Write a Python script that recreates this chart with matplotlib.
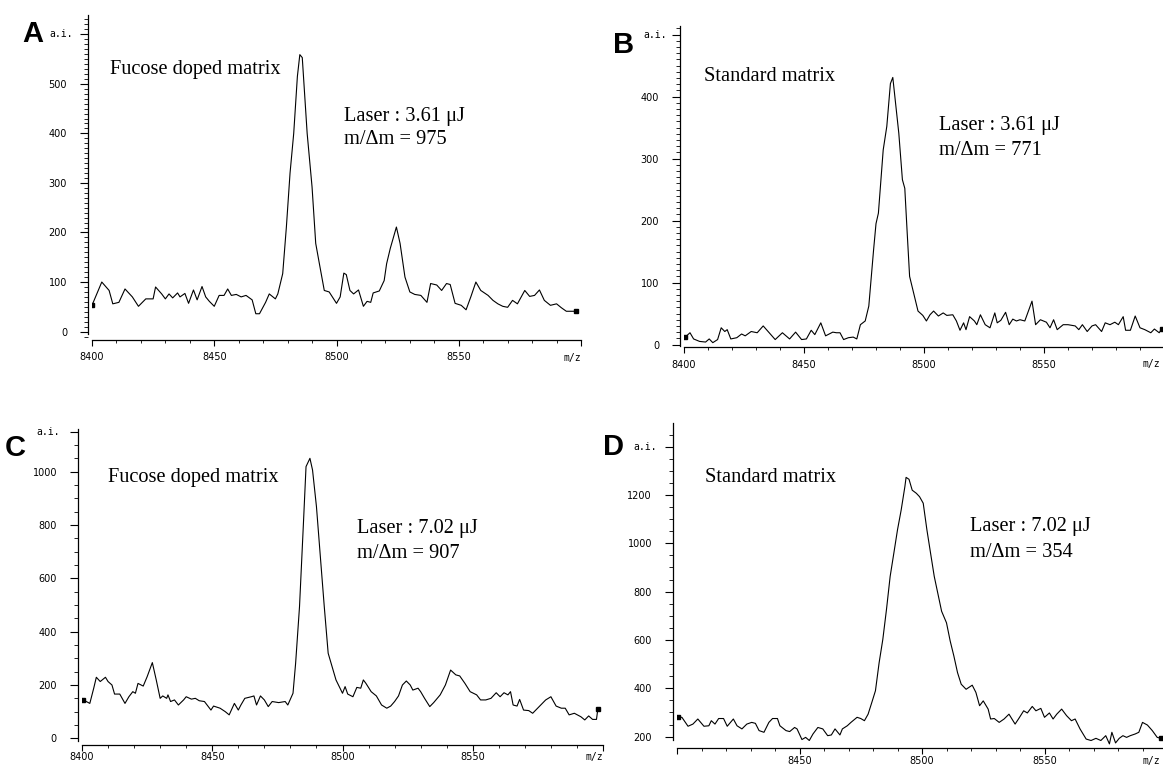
import matplotlib.pyplot as plt
from matplotlib import transforms
from matplotlib.ticker import FixedLocator, MultipleLocator

# Panel A - fucose doped matrix, 3.61 uJ
mz_a = [8400, 8404, 8407, 8408.5, 8411, 8413.5, 8416.5, 8419, 8422, 8425, 8426, 8428.5, 8430,
        8431.5, 8433, 8435, 8436, 8438, 8439.5, 8441.5, 8443, 8445, 8446.5, 8448, 8450, 8452,
        8454, 8455.5, 8457, 8459, 8461, 8463, 8465.5, 8467, 8468.5, 8471, 8472.5, 8475, 8476,
        8478, 8479.5, 8481, 8482.5, 8484, 8485, 8486, 8488, 8490, 8491.5, 8493, 8495, 8497,
        8500, 8501.5, 8503, 8504, 8505.5, 8507, 8509, 8511, 8512.5, 8514, 8515, 8517.5, 8519.5,
        8520.5, 8522, 8524.5, 8526, 8528, 8530, 8532, 8534.5, 8537, 8538.5, 8541, 8543, 8545,
        8546.5, 8548.5, 8551, 8553, 8555, 8557, 8559, 8562, 8564, 8566, 8568, 8570, 8572, 8574,
        8577, 8579, 8581, 8583, 8585, 8587.5, 8590, 8592, 8594, 8597, 8598]
int_a = [53, 100, 83, 56, 59, 86, 70, 51, 66, 66, 90, 76, 66,
         76, 68, 78, 70, 77, 57, 84, 64, 91, 70, 61, 51, 73,
         73, 86, 73, 75, 70, 73, 64, 36, 36, 59, 76, 66, 76,
         117, 211, 320, 400, 515, 559, 553, 400, 292, 178, 137, 83, 80,
         57, 70, 118, 115, 83, 76, 84, 51, 61, 59, 78, 82, 103,
         137, 168, 211, 178, 110, 80, 75, 73, 59, 97, 94, 83, 97,
         95, 57, 53, 44, 71, 100, 83, 73, 63, 56, 51, 49, 63, 56,
         83, 71, 73, 84, 63, 53, 56, 48, 41, 41, 41]

# Panel B - standard matrix, 3.61 uJ
mz_b = [8400.5, 8402.5, 8404, 8406.5, 8409, 8410.5, 8412, 8414, 8415.5, 8417, 8418, 8419.5, 8422,
        8424, 8425.5, 8428, 8430.5, 8433, 8435.5, 8438, 8441, 8444, 8446.5, 8449, 8451, 8453,
        8454.5, 8457, 8459, 8461, 8462, 8463.5, 8465, 8466.5, 8468.5, 8470.5, 8472, 8473.5,
        8475.5, 8477, 8479, 8480, 8481, 8483, 8484.5, 8486, 8487, 8488, 8489.5, 8491, 8492,
        8493, 8494, 8496, 8497.5, 8499.5, 8501, 8502.5, 8504, 8506, 8508, 8509.5, 8512, 8513.5,
        8515, 8516.5, 8517.5, 8519, 8521, 8522, 8523.5, 8525.5, 8527.5, 8529.5, 8530.5, 8532,
        8534, 8535.5, 8537, 8538.5, 8540, 8542, 8545, 8546.5, 8548.5, 8551, 8552.5, 8554,
        8555.5, 8558, 8560, 8563, 8564.5, 8566, 8568, 8570, 8571.5, 8574, 8575.5, 8577.5,
        8579.5, 8581, 8583, 8584, 8586, 8588, 8590, 8592, 8594.5, 8596, 8598, 8599]
int_b = [12, 19, 9, 5, 4, 9, 3, 8, 27, 21, 24, 9, 11,
         17, 14, 21, 19, 30, 19, 8, 19, 9, 20, 8, 9, 23,
         16, 35, 14, 18, 20, 19, 19, 8, 11, 12, 9, 32,
         38, 62, 153, 195, 212, 314, 352, 421, 431, 395, 341, 266, 252,
         180, 110, 78, 54, 47, 38, 48, 54, 46, 51, 47, 48, 38,
         23, 35, 24, 45, 38, 32, 48, 32, 27, 51, 35, 39,
         52, 32, 41, 38, 40, 38, 70, 32, 40, 36, 27, 40,
         24, 32, 32, 30, 24, 32, 21, 30, 32, 21, 35, 32,
         36, 32, 45, 23, 23, 46, 27, 24, 19, 25, 19, 25]

# Panel C - fucose doped matrix, 7.02 uJ
mz_c = [8400.5, 8403, 8404.5, 8405.5, 8407, 8409, 8410, 8411.5, 8412.5, 8414.5, 8416.5, 8418,
        8419.5, 8420.5, 8421.5, 8423.5, 8425, 8427, 8428.5, 8430, 8431, 8432.5, 8433, 8434,
        8435.5, 8437, 8439, 8440, 8442, 8443.5, 8445, 8447, 8449.5, 8450.5, 8453, 8455,
        8456.5, 8458.5, 8460, 8461, 8462.5, 8465, 8466, 8467, 8468.5, 8470, 8471.5, 8473,
        8475.5, 8478, 8479, 8481, 8482, 8483.5, 8485, 8486, 8487.5, 8488.5, 8490, 8491.5,
        8493, 8494.5, 8496, 8497.5, 8500, 8501, 8502, 8504, 8505.5, 8507, 8508, 8509, 8511,
        8513, 8515, 8517, 8518.5, 8520, 8521.5, 8523, 8524.5, 8526, 8527, 8529, 8530, 8531.5,
        8533.5, 8535, 8537.5, 8539.5, 8541.5, 8543.5, 8545, 8547, 8549, 8551.5, 8553, 8555,
        8557, 8559, 8560.5, 8562, 8563.5, 8564.5, 8565.5, 8567, 8568, 8569.5, 8571.5, 8573,
        8575.5, 8578, 8580, 8582, 8584, 8585.5, 8587, 8589, 8591.5, 8593, 8594.5, 8596,
        8597.5, 8598]
int_c = [144, 131, 188, 229, 213, 229, 213, 200, 166, 166, 131, 156,
         175, 169, 206, 196, 231, 284, 219, 150, 159, 150, 163, 138,
         144, 125, 144, 156, 147, 150, 141, 138, 106, 121, 113, 100,
         88, 131, 106, 125, 150, 156, 159, 125, 159, 144, 119, 138,
         134, 138, 125, 169, 281, 494, 806, 1019, 1050, 1006, 869, 681,
         494, 319, 269, 219, 169, 194, 166, 156, 191, 188, 219, 206, 175,
         159, 125, 113, 121, 138, 159, 200, 215, 200, 181, 188, 175, 150,
         119, 134, 163, 200, 256, 238, 234, 206, 175, 163, 144, 144,
         150, 171, 156, 171, 163, 175, 125, 121, 146, 106, 104, 94,
         119, 144, 156, 121, 113, 113, 88, 94, 81, 69, 84, 71,
         71, 109]

# Panel D - standard matrix, 7.02 uJ
mz_d = [8400.5, 8402, 8404.5, 8406.5, 8408.5, 8411, 8413, 8414, 8415.5, 8417, 8419, 8420.5,
        8423, 8424.5, 8426.5, 8428.5, 8430.5, 8432, 8433.5, 8435.5, 8437.5, 8439, 8441, 8442,
        8444.5, 8446, 8448, 8449, 8451, 8452.5, 8454, 8455.5, 8457.5, 8459.5, 8461.5, 8463,
        8464.5, 8466.5, 8467.5, 8469.5, 8471, 8473.5, 8475, 8476.5, 8478, 8479.5, 8481,
        8482.5, 8484, 8485.5, 8487, 8488.5, 8490, 8491.5, 8493, 8493.5, 8494.7, 8496, 8497.7,
        8499, 8500.5, 8502, 8503.5, 8505, 8507, 8508, 8510, 8511.5, 8513, 8514.5, 8516, 8518,
        8520.5, 8522, 8523.5, 8525, 8527, 8528, 8529.5, 8531.5, 8533.5, 8535.5, 8538, 8539.5,
        8541.5, 8543, 8545, 8546.5, 8548.5, 8550, 8552, 8553.5, 8555, 8557, 8559, 8561,
        8562.5, 8564.5, 8567, 8569, 8571, 8573, 8575, 8576.5, 8577.5, 8579, 8580.5, 8582,
        8583.5, 8585, 8587, 8588.5, 8590, 8592, 8594, 8596, 8597.5]
int_d = [280, 280, 243, 252, 273, 243, 245, 266, 252, 275, 275, 243,
         273, 245, 232, 252, 259, 255, 225, 218, 259, 275, 275, 245,
         225, 221, 238, 232, 188, 197, 184, 211, 238, 232, 204, 207,
         232, 207, 232, 245, 259, 280, 275, 266, 293, 341, 390,
         506, 602, 726, 863, 959, 1056, 1138, 1234, 1273, 1265, 1220, 1207,
         1193, 1166, 1056, 959, 863, 767, 719, 671, 596, 534, 465, 417, 396,
         413, 383, 328, 348, 314, 273, 275, 259, 273, 293, 252, 275,
         307, 298, 325, 307, 317, 280, 298, 273, 293, 314, 287, 266,
         273, 232, 190, 184, 193, 184, 204, 170, 218, 174, 193, 204,
         197, 204, 211, 218, 259, 248, 225, 197, 193]

panel_letters = ["A", "B", "C", "D"]
matrix_labels = ["Fucose doped matrix", "Standard matrix", "Fucose doped matrix", "Standard matrix"]
laser_labels = ["Laser : 3.61 \u03bcJ", "Laser : 3.61 \u03bcJ", "Laser : 7.02 \u03bcJ", "Laser : 7.02 \u03bcJ"]
resolution_labels = ["m/\u0394m = 975", "m/\u0394m = 771", "m/\u0394m = 907", "m/\u0394m = 354"]

W, H = 1163, 767
fig = plt.figure(figsize=(W / 100, H / 100), dpi=100)

serif = ["Liberation Serif", "DejaVu Serif"]
mono = "DejaVu Sans Mono"


def px_box(left, right, top, bottom):
    return [left / W, 1 - bottom / H, (right - left) / W, (bottom - top) / H]


# per panel layout: axes box in pixels, y limits, y ticks, minor step, a.i. position
layout = [
    dict(box=px_box(92, 581, 15, 340), ylim=(-17, 639), yticks=[0, 100, 200, 300, 400, 500],
         ystep=10, ai=600, ai_dx=-19, spine_lo=-5,
         xlabels=["8400", "8450", "8500", "8550"], mz_dx=0,
         txt1=(8407.5, 528), txt2=(8503, 434), txt3=(8503, 387), xpad=5,
         letter=(22, 42)),
    dict(box=px_box(684, 1164, 26, 347), ylim=(-4, 514), yticks=[0, 100, 200, 300, 400],
         ystep=10, ai=500, ai_dx=-17, spine_lo=-3,
         xlabels=["8400", "8450", "8500", "8550"], mz_dx=-4,
         txt1=(8408.3, 433), txt2=(8506.4, 353), txt3=(8506.4, 313), xpad=5,
         letter=(613, 53)),
    dict(box=px_box(82, 603, 429, 745), ylim=(-25, 1160), yticks=[0, 200, 400, 600, 800, 1000],
         ystep=50, ai=1150, ai_dx=-22, spine_lo=-10,
         xlabels=["8400", "8450", "8500", "8550"], mz_dx=0,
         txt1=(8410, 979), txt2=(8505.6, 788), txt3=(8505.6, 694), xpad=1,
         letter=(5, 456)),
    dict(box=px_box(677, 1167, 423, 748), ylim=(153, 1498), yticks=[200, 400, 600, 800, 1000, 1200],
         ystep=50, ai=1400, ai_dx=-20, spine_lo=185,
         xlabels=["", "8450", "8500", "8550"], mz_dx=-7,
         txt1=(8411.4, 1273), txt2=(8519.4, 1069), txt3=(8519.4, 964), xpad=1.5,
         letter=(603, 455)),
]

spectra = [(mz_a, int_a), (mz_b, int_b), (mz_c, int_c), (mz_d, int_d)]

for i, (mz, inten) in enumerate(spectra):
    cfg = layout[i]
    ax = fig.add_axes(cfg["box"])
    ax.plot(mz, inten, color="black", lw=0.8)
    ax.plot([mz[0], mz[-1]], [inten[0], inten[-1]], "s", color="black", ms=2.8)

    ax.set_xlim(8400, 8600)
    ax.set_ylim(*cfg["ylim"])
    for s in ["top", "right"]:
        ax.spines[s].set_visible(False)
    ax.spines["left"].set_position(("outward", 3))
    ax.spines["left"].set_bounds(cfg["spine_lo"], cfg["ylim"][1])
    ax.spines["left"].set_linewidth(0.9)
    ax.spines["bottom"].set_linewidth(0.9)

    # y axis: numbers plus the a.i. tick
    yt = cfg["yticks"] + [cfg["ai"]]
    ax.yaxis.set_major_locator(FixedLocator(yt))
    ax.set_yticklabels([str(v) for v in cfg["yticks"]] + [""])
    ax.yaxis.set_minor_locator(MultipleLocator(cfg["ystep"]))
    ax.tick_params(axis="y", which="major", length=6, width=0.8, pad=9, labelsize=7)
    ax.tick_params(axis="y", which="minor", length=3, width=0.6)

    # x axis
    ax.set_xticks([8400, 8450, 8500, 8550, 8600])
    ax.set_xticklabels(cfg["xlabels"] + [""])
    ax.xaxis.set_minor_locator(MultipleLocator(10))
    ax.tick_params(axis="x", which="major", length=4, width=0.8, pad=cfg["xpad"], labelsize=7)
    ax.tick_params(axis="x", which="minor", length=2, width=0.6)

    # m/z unit in place of the last tick label
    mz_tr = transforms.offset_copy(ax.get_xaxis_transform(), fig=fig, x=cfg["mz_dx"],
                                   y=-(4 + cfg["xpad"]) * 100 / 72, units="dots")
    ax.text(8600, 0, "m/z", transform=mz_tr, fontsize=7, family=mono, ha="right", va="top")

    ai_tr = transforms.offset_copy(ax.get_yaxis_transform(), fig=fig,
                                   x=cfg["ai_dx"], y=0, units="dots")
    ax.text(0, cfg["ai"], "a.i.", transform=ai_tr, fontsize=7, family=mono,
            ha="right", va="center")

    ax.text(*cfg["txt1"], matrix_labels[i], fontsize=14.7, family=serif, ha="left", va="center")
    ax.text(*cfg["txt2"], laser_labels[i], fontsize=14.7, family=serif, ha="left", va="center")
    ax.text(*cfg["txt3"], resolution_labels[i], fontsize=14.7, family=serif, ha="left", va="center")

    lx, ly = cfg["letter"]
    fig.text(lx / W, 1 - ly / H, panel_letters[i], fontsize=21, fontweight="heavy",
             family="Liberation Sans", ha="left", va="baseline")

fig.savefig("out.png", dpi=100)
